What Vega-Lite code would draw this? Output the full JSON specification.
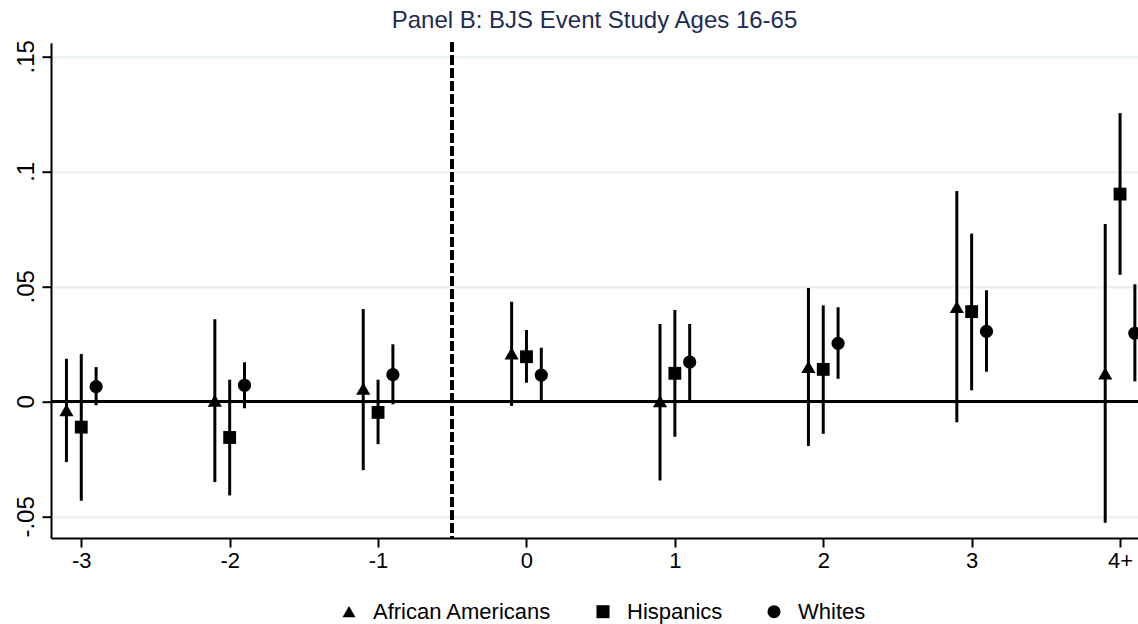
{
  "$schema": "https://vega.github.io/schema/vega-lite/v6.json",
  "width": 1087,
  "height": 495.3,
  "autosize": {"type": "none"},
  "padding": {"left": 51, "top": 42.7, "right": 0, "bottom": 86},
  "background": "white",
  "title": {
    "text": "Panel B: BJS Event Study Ages 16-65",
    "font": "Liberation Sans",
    "fontSize": 24,
    "fontWeight": "normal",
    "color": "#1E2B52",
    "anchor": "middle",
    "offset": 7
  },
  "config": {
    "view": {"stroke": null},
    "font": "Liberation Sans",
    "axis": {
      "labelFont": "Liberation Sans",
      "labelFontSize": 22,
      "labelColor": "black",
      "domainColor": "black",
      "domainWidth": 2,
      "tickColor": "black",
      "tickWidth": 2,
      "tickSize": 9,
      "title": null
    }
  },
  "data": {
    "values": [
      {"t": -3, "group": "African Americans", "est": -0.0038, "lo": -0.0264, "hi": 0.0185},
      {"t": -2, "group": "African Americans", "est": 0.0003, "lo": -0.0351, "hi": 0.0357},
      {"t": -1, "group": "African Americans", "est": 0.0055, "lo": -0.0299, "hi": 0.0401},
      {"t": 0, "group": "African Americans", "est": 0.0209, "lo": -0.002, "hi": 0.0433},
      {"t": 1, "group": "African Americans", "est": 0.0001, "lo": -0.0344, "hi": 0.0336},
      {"t": 2, "group": "African Americans", "est": 0.015, "lo": -0.0194, "hi": 0.0493},
      {"t": 3, "group": "African Americans", "est": 0.0411, "lo": -0.0091, "hi": 0.0914},
      {"t": 4, "group": "African Americans", "est": 0.0122, "lo": -0.0528, "hi": 0.0771},
      {"t": -3, "group": "Hispanics", "est": -0.0112, "lo": -0.0432, "hi": 0.0206},
      {"t": -2, "group": "Hispanics", "est": -0.0157, "lo": -0.0409, "hi": 0.0094},
      {"t": -1, "group": "Hispanics", "est": -0.0048, "lo": -0.0186, "hi": 0.0094},
      {"t": 0, "group": "Hispanics", "est": 0.0194, "lo": 0.0081, "hi": 0.031},
      {"t": 1, "group": "Hispanics", "est": 0.0122, "lo": -0.0154, "hi": 0.0397},
      {"t": 2, "group": "Hispanics", "est": 0.0139, "lo": -0.0141, "hi": 0.0417},
      {"t": 3, "group": "Hispanics", "est": 0.039, "lo": 0.0048, "hi": 0.0729},
      {"t": 4, "group": "Hispanics", "est": 0.0901, "lo": 0.055, "hi": 0.1253},
      {"t": -3, "group": "Whites", "est": 0.0064, "lo": -0.0017, "hi": 0.0149},
      {"t": -2, "group": "Whites", "est": 0.007, "lo": -0.003, "hi": 0.017},
      {"t": -1, "group": "Whites", "est": 0.0116, "lo": -0.0013, "hi": 0.0248},
      {"t": 0, "group": "Whites", "est": 0.0114, "lo": 0.0, "hi": 0.0233},
      {"t": 1, "group": "Whites", "est": 0.0171, "lo": 0.0, "hi": 0.0336},
      {"t": 2, "group": "Whites", "est": 0.0252, "lo": 0.0098, "hi": 0.0409},
      {"t": 3, "group": "Whites", "est": 0.0304, "lo": 0.0129, "hi": 0.0483},
      {"t": 4, "group": "Whites", "est": 0.0296, "lo": 0.0087, "hi": 0.0509}
    ]
  },
  "layer": [
    {
      "mark": {"type": "rule", "color": "black", "strokeWidth": 2},
      "encoding": {
        "y": {
          "datum": 0,
          "type": "quantitative",
          "scale": {"domain": [-0.0594, 0.1559], "nice": false, "zero": false},
          "axis": {
            "values": [-0.05, 0, 0.05, 0.1, 0.15],
            "labelExpr": "datum.value == 0 ? '0' : (datum.value < 0 ? '-' : '') + replace(format(abs(datum.value), '.2~f'), '0.', '.')",
            "labelAngle": -90,
            "labelAlign": "center",
            "labelBaseline": "bottom",
            "labelFontSize": 24,
            "labelPadding": 4,
            "grid": true,
            "gridColor": "#EAF2F3",
            "gridWidth": 2.5
          }
        }
      }
    },
    {
      "mark": {"type": "rule", "color": "black", "strokeWidth": 3, "strokeDash": [9, 4]},
      "encoding": {
        "x": {
          "datum": -0.5,
          "type": "quantitative",
          "scale": {"domain": [-3.204, 4.121], "nice": false, "zero": false},
          "axis": {
            "values": [-3, -2, -1, 0, 1, 2, 3, 4],
            "labelExpr": "datum.value == 4 ? '4+' : '' + datum.value",
            "labelPadding": 3,
            "grid": false
          }
        }
      }
    },
    {
      "transform": [{"filter": "datum.group == 'African Americans'"}],
      "mark": {"type": "rule", "color": "black", "strokeWidth": 3, "xOffset": -14.83},
      "encoding": {
        "x": {"field": "t", "type": "quantitative"},
        "y": {"field": "lo", "type": "quantitative"},
        "y2": {"field": "hi"}
      }
    },
    {
      "transform": [{"filter": "datum.group == 'Hispanics'"}],
      "mark": {"type": "rule", "color": "black", "strokeWidth": 3},
      "encoding": {
        "x": {"field": "t", "type": "quantitative"},
        "y": {"field": "lo", "type": "quantitative"},
        "y2": {"field": "hi"}
      }
    },
    {
      "transform": [{"filter": "datum.group == 'Whites'"}],
      "mark": {"type": "rule", "color": "black", "strokeWidth": 3, "xOffset": 14.83},
      "encoding": {
        "x": {"field": "t", "type": "quantitative"},
        "y": {"field": "lo", "type": "quantitative"},
        "y2": {"field": "hi"}
      }
    },
    {
      "transform": [{"filter": "datum.group == 'African Americans'"}],
      "mark": {"type": "point", "filled": true, "color": "black", "opacity": 1, "size": 200, "xOffset": -14.83},
      "encoding": {
        "x": {"field": "t", "type": "quantitative"},
        "y": {"field": "est", "type": "quantitative"},
        "shape": {
          "field": "group",
          "type": "nominal",
          "scale": {"domain": ["African Americans", "Hispanics", "Whites"], "range": ["triangle-up", "square", "circle"]},
          "legend": {
            "orient": "none",
            "legendX": 287,
            "legendY": 558,
            "direction": "horizontal",
            "title": null,
            "labelFont": "Liberation Sans",
            "labelFontSize": 22,
            "labelColor": "black",
            "labelLimit": 400,
            "labelOffset": 13,
            "columnPadding": 40,
            "symbolSize": 170,
            "symbolFillColor": "black",
            "symbolStrokeColor": "black",
            "symbolOpacity": 1
          }
        }
      }
    },
    {
      "transform": [{"filter": "datum.group == 'Hispanics'"}],
      "mark": {"type": "point", "filled": true, "color": "black", "opacity": 1, "size": 165},
      "encoding": {
        "x": {"field": "t", "type": "quantitative"},
        "y": {"field": "est", "type": "quantitative"},
        "shape": {"field": "group", "type": "nominal"}
      }
    },
    {
      "transform": [{"filter": "datum.group == 'Whites'"}],
      "mark": {"type": "point", "filled": true, "color": "black", "opacity": 1, "size": 175, "xOffset": 14.83},
      "encoding": {
        "x": {"field": "t", "type": "quantitative"},
        "y": {"field": "est", "type": "quantitative"},
        "shape": {"field": "group", "type": "nominal"}
      }
    }
  ],
  "resolve": {"scale": {"shape": "shared"}}
}
